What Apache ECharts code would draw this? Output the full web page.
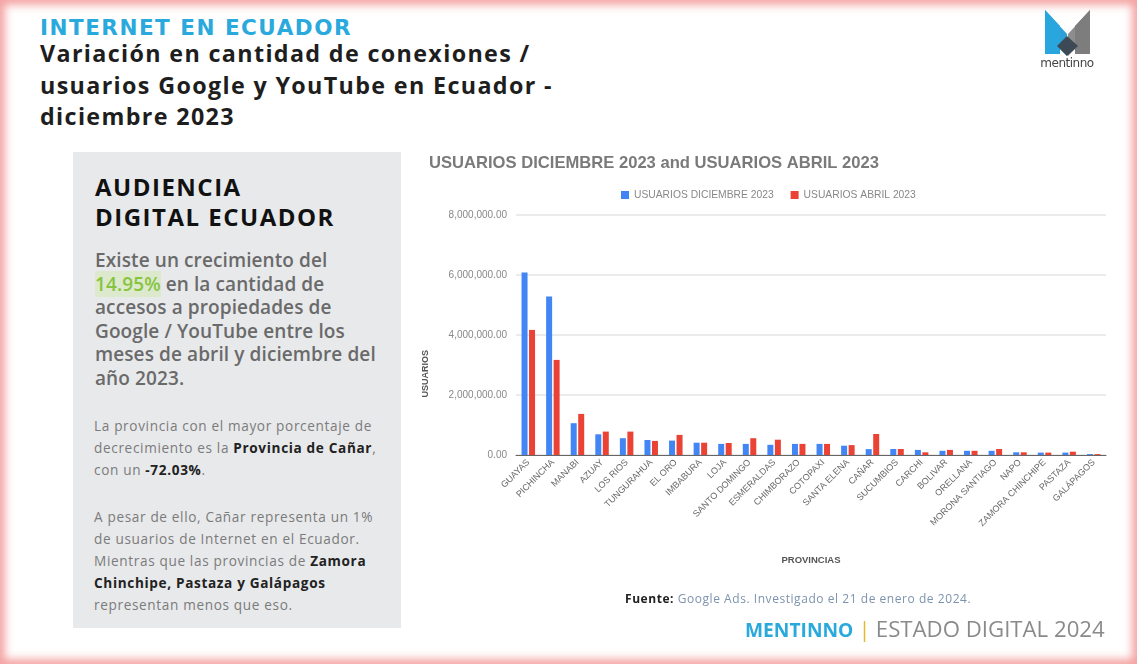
<!DOCTYPE html>
<html>
<head>
<meta charset="utf-8">
<script src="https://cdn.jsdelivr.net/npm/echarts@6/dist/echarts.min.js"></script>
<style>
  html, body { margin:0; padding:0; width:1137px; height:664px; overflow:hidden; background:#fff; font-family:"Open Sans", sans-serif; }
  #page { position:absolute; left:0; top:0; width:1137px; height:664px; }
  #frame { position:absolute; left:0; top:0; width:1137px; height:664px; box-sizing:border-box;
           box-shadow: inset 0 0 9px 5px rgba(235,90,90,0.55); pointer-events:none; z-index:5; }
  .h1 { position:absolute; left:40px; top:15px; font-family:"DejaVu Sans", sans-serif; font-weight:700; font-size:21.5px; color:#2aa9dd; letter-spacing:1.5px; white-space:nowrap; }
  .h2 { position:absolute; left:40px; top:38px; font-weight:700; font-size:23.3px; line-height:31.5px; color:#1e1e1e; letter-spacing:1.35px; white-space:nowrap; }
  #panel { position:absolute; left:73px; top:152px; width:328px; height:476px; background:#e8e9eb; }
  .ptitle { position:absolute; left:22px; top:20px; font-weight:700; font-size:24px; line-height:30px; color:#111; letter-spacing:1.5px; white-space:nowrap; }
  .pbody { position:absolute; left:22px; top:97px; font-weight:600; font-size:19px; line-height:23.5px; color:#6a6a6a; white-space:nowrap; letter-spacing:0.1px; }
  .green { color:#86c440; background:rgba(200,235,150,0.35); }
  .psmall { position:absolute; left:21px; font-size:13.6px; line-height:22px; color:#7b7b7b; letter-spacing:0.65px; white-space:nowrap; }
  .psmall b { color:#222; }
  #chart { position:absolute; left:0; top:0; width:1137px; height:664px; z-index:2; }
  .fuente { position:absolute; left:625px; top:590px; font-size:12px; color:#7d93ad; z-index:3; letter-spacing:0.55px; white-space:nowrap; }
  .fuente b { color:#222; }
  .brand { position:absolute; left:745px; top:613px; font-size:21px; color:#8a8a8a; z-index:3; white-space:nowrap; }
  .brand b { color:#2aa9dd; font-weight:700; font-size:19.2px; }
  .brand .bar { color:#e7b928; }
  .brand .rest { font-size:22.2px; }
  .logo { position:absolute; left:1030px; top:6px; width:75px; height:72px; z-index:3; }
  .logotext { position:absolute; left:1032px; top:56px; width:70px; text-align:center; font-size:12px; color:#444; letter-spacing:-0.5px; z-index:3; font-family:"DejaVu Sans", sans-serif; }
</style>
</head>
<body>
<div id="page">
  <div class="h1">INTERNET EN ECUADOR</div>
  <div class="h2">Variación en cantidad de conexiones /<br>usuarios Google y YouTube en Ecuador -<br>diciembre 2023</div>

  <svg class="logo" viewBox="0 0 75 72">
    <polygon points="15,4 37,28 37,50 15,28" fill="#2f9fd8"/>
    <polygon points="60,4 38,28 38,50 60,28" fill="#8d8d8d"/>
    <polygon points="15,4 15,48 30,48 30,20" fill="#2aa6de"/>
    <polygon points="60,4 60,48 45,48 45,20" fill="#7d7d7d"/>
    <polygon points="27,40 37,30 48,40 37,50" fill="#3d4a55"/>
  </svg>
  <div class="logotext">mentinno</div>

  <div id="panel">
    <div class="ptitle">AUDIENCIA<br>DIGITAL ECUADOR</div>
    <div class="pbody">Existe un crecimiento del<br><span class="green">14.95%</span> en la cantidad de<br>accesos a propiedades de<br>Google / YouTube entre los<br>meses de abril y diciembre del<br>año 2023.</div>
    <div class="psmall" style="top:263px;">La provincia con el mayor porcentaje de<br>decrecimiento es la <b>Provincia de Cañar</b>,<br>con un <b>-72.03%</b>.</div>
    <div class="psmall" style="top:354px;">A pesar de ello, Cañar representa un 1%<br>de usuarios de Internet en el Ecuador.<br>Mientras que las provincias de <b>Zamora</b><br><b>Chinchipe, Pastaza y Galápagos</b><br>representan menos que eso.</div>
  </div>

  <div id="chart"></div>

  <div class="fuente"><b>Fuente:</b> Google Ads. Investigado el 21 de enero de 2024.</div>
  <div class="brand"><b>MENTINNO</b> <span class="bar">|</span> <span class="rest">ESTADO DIGITAL 2024</span></div>
  <div id="frame"></div>
</div>
<script>
const categories = ["GUAYAS","PICHINCHA","MANABI","AZUAY","LOS RIOS","TUNGURAHUA","EL ORO","IMBABURA","LOJA","SANTO DOMINGO","ESMERALDAS","CHIMBORAZO","COTOPAXI","SANTA ELENA","CAÑAR","SUCUMBIOS","CARCHI","BOLIVAR","ORELLANA","MORONA SANTIAGO","NAPO","ZAMORA CHINCHIPE","PASTAZA","GALÁPAGOS"];
const usuariosDic2023 = [6080000,5280000,1060000,690000,560000,500000,480000,410000,370000,370000,340000,370000,370000,310000,196000,200000,170000,140000,140000,140000,90000,80000,80000,30000];
const usuariosAbr2023 = [4170000,3170000,1370000,780000,780000,470000,670000,410000,400000,560000,510000,370000,370000,330000,700000,200000,90000,170000,140000,200000,90000,80000,110000,30000];
const seriesNames = ["USUARIOS DICIEMBRE 2023","USUARIOS ABRIL 2023"];
const chartTitle = "USUARIOS DICIEMBRE 2023 and USUARIOS ABRIL 2023";

const chart = echarts.init(document.getElementById('chart'), null, {renderer:'canvas'});
const fmt = v => v.toLocaleString('en-US',{minimumFractionDigits:2, maximumFractionDigits:2});
chart.setOption({
  backgroundColor:'transparent',
  animation:false,
  title:{ text:chartTitle, left:424, top:150, textStyle:{ fontFamily:'Liberation Sans, Arial', fontSize:16.6, fontWeight:'bold', color:'#7a7a7a' } },
  legend:{ left:616, top:185, itemWidth:8, itemHeight:8, itemGap:17, icon:'rect',
           textStyle:{ fontFamily:'Liberation Sans, Arial', fontSize:10.3, color:'#888' } },
  grid:{ left:516, right:31, top:215, bottom:209, containLabel:false },
  xAxis:{ type:'category', data:categories, name:'PROVINCIAS', nameLocation:'middle', nameGap:100,
          nameTextStyle:{ fontFamily:'Liberation Sans, Arial', fontSize:9.5, fontWeight:'bold', color:'#555' },
          axisTick:{show:false}, axisLine:{ lineStyle:{ color:'#666', width:1 } },
          axisLabel:{ interval:0, rotate:45, fontFamily:'Liberation Sans, Arial', fontSize:9, color:'#666', margin:6 } },
  yAxis:{ type:'value', min:0, max:8000000, interval:2000000,
          axisLabel:{ formatter:fmt, fontFamily:'Liberation Sans, Arial', fontSize:10, color:'#888', margin:9 },
          splitLine:{ lineStyle:{ color:'#e4e4e4', width:1.5 } }, axisLine:{show:false}, axisTick:{show:false} },
  graphic:[{ type:'text', left:421, top:350, rotation:Math.PI/2,
             style:{ text:'USUARIOS', fontFamily:'Liberation Sans, Arial', fontSize:9, fontWeight:'bold', fill:'#555' } }],
  series:[
    { name:seriesNames[0], type:'bar', data:usuariosDic2023, barWidth:6, barGap:'25%', itemStyle:{ color:'#4285f4' } },
    { name:seriesNames[1], type:'bar', data:usuariosAbr2023, barWidth:6, itemStyle:{ color:'#ea4335' } }
  ]
});
</script>
</body>
</html>
